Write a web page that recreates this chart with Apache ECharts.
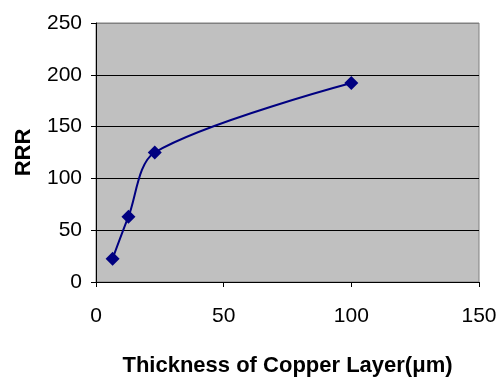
<!DOCTYPE html>
<html>
<head>
<meta charset="utf-8">
<script src="https://cdn.jsdelivr.net/npm/echarts@6/dist/echarts.min.js"></script>
<style>html,body{margin:0;padding:0;background:#fff}#c{width:503px;height:382px}</style>
</head>
<body>
<div id="c"></div>
<script>
var thickness = [6.5, 12.7, 23, 100];
var rrr = [22.5, 63, 125, 192];
var xTicks = [0, 50, 100, 150];
var yTicks = [0, 50, 100, 150, 200, 250];

var data = thickness.map(function (t, i) { return [t, rrr[i]]; });
var chart = echarts.init(document.getElementById('c'), null, { renderer: 'canvas' });
var font = 'Liberation Sans, Arial, sans-serif';
chart.setOption({
  backgroundColor: '#ffffff',
  animation: false,
  grid: { left: 96, right: 24, top: 23, bottom: 99, show: true, backgroundColor: '#c0c0c0', borderColor: '#808080', borderWidth: 1 },
  xAxis: {
    type: 'value', min: xTicks[0], max: xTicks[xTicks.length - 1], interval: 50,
    name: 'Thickness of Copper Layer(μm)', nameLocation: 'middle', nameGap: 73,
    nameTextStyle: { fontFamily: font, fontWeight: 'bold', fontSize: 22, color: '#000' },
    axisLine: { show: true, lineStyle: { color: '#000', width: 1 } },
    axisTick: { show: true, length: 5, inside: false, lineStyle: { color: '#000' } },
    axisLabel: { fontFamily: font, fontSize: 21, color: '#000', margin: 24 },
    splitLine: { show: false }
  },
  yAxis: {
    type: 'value', min: yTicks[0], max: yTicks[yTicks.length - 1], interval: 50,
    name: 'RRR', nameLocation: 'middle', nameGap: 61, nameRotate: 90,
    nameTextStyle: { fontFamily: font, fontWeight: 'bold', fontSize: 22, color: '#000' },
    axisLine: { show: true, lineStyle: { color: '#000', width: 1 } },
    axisTick: { show: true, length: 5, inside: false, lineStyle: { color: '#000' } },
    axisLabel: { fontFamily: font, fontSize: 21, color: '#000', margin: 14 },
    splitLine: { show: true, lineStyle: { color: ['#000', '#000', '#000', '#000', '#000', '#808080'], width: 1 } }
  },
  series: [{
    type: 'line', data: data, smooth: 0.3,
    symbol: 'diamond', symbolSize: 14,
    lineStyle: { color: '#000080', width: 2 },
    itemStyle: { color: '#000080' }
  }]
});
</script>
</body>
</html>
